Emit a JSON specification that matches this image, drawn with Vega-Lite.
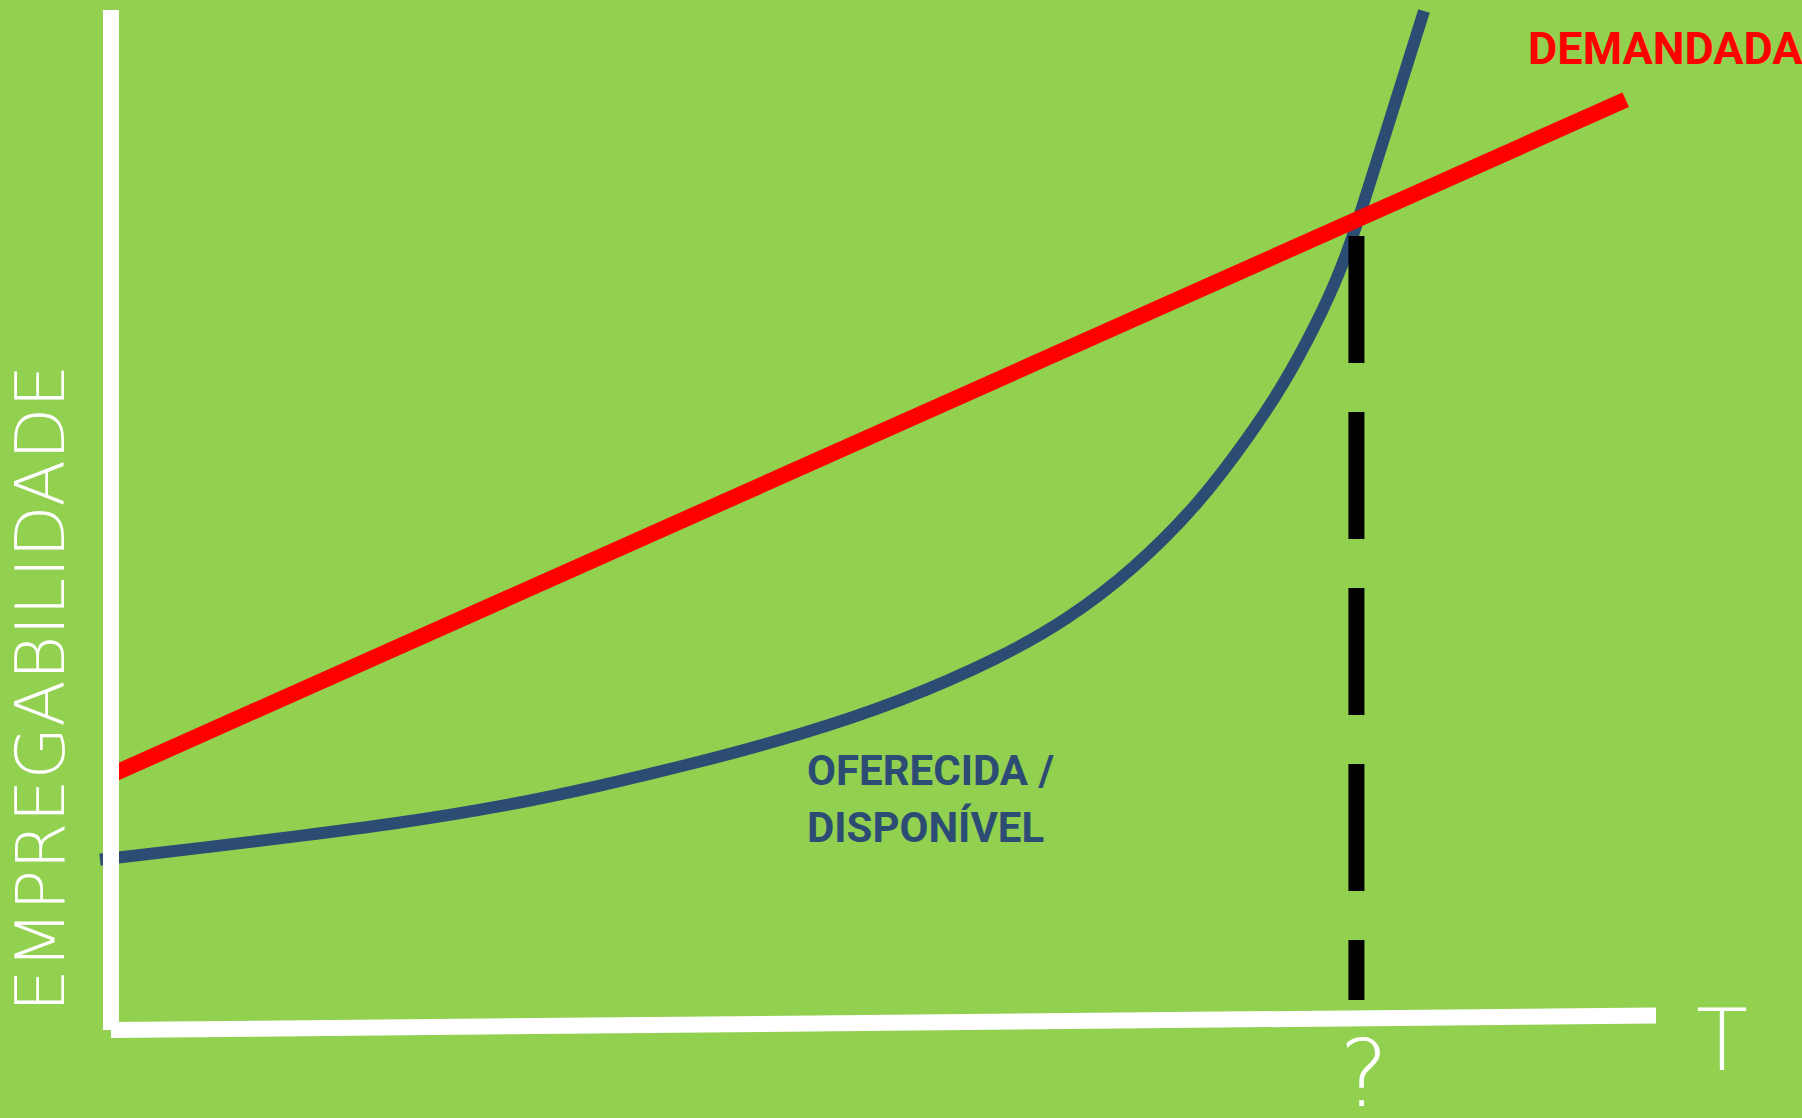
{
  "$schema": "https://vega.github.io/schema/vega-lite/v6.json",
  "autosize": "none",
  "width": 1802,
  "height": 1118,
  "padding": 0,
  "background": "#92D050",
  "config": {"view": {"stroke": null}},
  "datasets": {
    "curves": [
      {"series": "OFERECIDA", "T": -0.712, "E": 16.7},
      {"series": "OFERECIDA", "T": 0.518, "E": 16.91},
      {"series": "OFERECIDA", "T": 5.761, "E": 17.84},
      {"series": "OFERECIDA", "T": 12.233, "E": 19.02},
      {"series": "OFERECIDA", "T": 18.706, "E": 20.29},
      {"series": "OFERECIDA", "T": 25.178, "E": 21.86},
      {"series": "OFERECIDA", "T": 31.65, "E": 23.92},
      {"series": "OFERECIDA", "T": 38.123, "E": 26.27},
      {"series": "OFERECIDA", "T": 44.595, "E": 28.92},
      {"series": "OFERECIDA", "T": 51.068, "E": 32.16},
      {"series": "OFERECIDA", "T": 57.54, "E": 36.47},
      {"series": "OFERECIDA", "T": 61.877, "E": 40.2},
      {"series": "OFERECIDA", "T": 66.149, "E": 45.1},
      {"series": "OFERECIDA", "T": 70.485, "E": 51.67},
      {"series": "OFERECIDA", "T": 73.722, "E": 58.33},
      {"series": "OFERECIDA", "T": 75.858, "E": 63.14},
      {"series": "OFERECIDA", "T": 78.058, "E": 69.31},
      {"series": "OFERECIDA", "T": 79.547, "E": 74.31},
      {"series": "OFERECIDA", "T": 80.647, "E": 78.92},
      {"series": "OFERECIDA", "T": 82.848, "E": 89.61},
      {"series": "OFERECIDA", "T": 84.984, "E": 99.9},
      {"series": "DEMANDADA", "T": 0, "E": 25.0},
      {"series": "DEMANDADA", "T": 98.04, "E": 91.2},
      {"series": "EIXO_T", "T": 0, "E": 0},
      {"series": "EIXO_T", "T": 100, "E": 1.42}
    ],
    "eixoY": [{"T": 0, "E0": 0, "E1": 100}],
    "marcador": [{"T": 80.61, "E0": 77.84, "E1": 2.94}],
    "rotulos": [
      {"tipo": "demanda", "label": "DEMANDADA", "T": 91.72, "E": 94.67},
      {"tipo": "oferta", "label": "OFERECIDA /", "T": 45.05, "E": 24.02},
      {"tipo": "oferta", "label": "DISPONÍVEL", "T": 45.05, "E": 18.43},
      {"tipo": "eixo", "label": "T", "T": 104.27, "E": -3.92},
      {"tipo": "pergunta", "label": "?", "T": 81.1, "E": -7.45},
      {"tipo": "eixoY", "label": "EMPREGABILIDADE", "T": -3.042, "E": 33.48}
    ]
  },
  "encoding": {
    "x": {"field": "T", "type": "quantitative", "axis": null, "scale": {"domain": [-7.184, 109.45], "nice": false, "zero": false}},
    "y": {"field": "E", "type": "quantitative", "axis": null, "scale": {"domain": [-8.627, 100.98], "nice": false, "zero": false}}
  },
  "layer": [
    {
      "data": {"name": "curves"},
      "transform": [{"filter": "datum.series === 'OFERECIDA'"}],
      "mark": {"type": "line", "color": "#2C4C74", "strokeWidth": 12, "interpolate": "basis", "strokeCap": "butt"}
    },
    {
      "data": {"name": "curves"},
      "transform": [{"filter": "datum.series === 'DEMANDADA'"}],
      "mark": {"type": "line", "color": "#FF0000", "strokeWidth": 16, "strokeCap": "butt"}
    },
    {
      "data": {"name": "marcador"},
      "mark": {"type": "rule", "color": "#000000", "strokeWidth": 16, "strokeDash": [127, 49], "strokeCap": "butt"},
      "encoding": {
        "y": {"field": "E0", "type": "quantitative"},
        "y2": {"field": "E1"}
      }
    },
    {
      "data": {"name": "curves"},
      "transform": [{"filter": "datum.series === 'EIXO_T'"}],
      "mark": {"type": "line", "color": "#FFFFFF", "strokeWidth": 16, "strokeCap": "butt"}
    },
    {
      "data": {"name": "eixoY"},
      "mark": {"type": "rule", "color": "#FFFFFF", "strokeWidth": 16, "strokeCap": "butt"},
      "encoding": {
        "y": {"field": "E0", "type": "quantitative"},
        "y2": {"field": "E1"}
      }
    },
    {
      "data": {"name": "rotulos"},
      "transform": [{"filter": "datum.tipo === 'demanda'"}],
      "mark": {"type": "text", "align": "left", "baseline": "alphabetic", "font": "Roboto", "fontWeight": "bold", "fontSize": 45, "color": "#FF0000"},
      "encoding": {"text": {"field": "label"}}
    },
    {
      "data": {"name": "rotulos"},
      "transform": [{"filter": "datum.tipo === 'oferta'"}],
      "mark": {"type": "text", "align": "left", "baseline": "alphabetic", "font": "Roboto", "fontWeight": "bold", "fontSize": 42, "color": "#2C4C74"},
      "encoding": {"text": {"field": "label"}}
    },
    {
      "data": {"name": "rotulos"},
      "transform": [{"filter": "datum.tipo === 'eixo'"}],
      "mark": {"type": "text", "align": "center", "baseline": "alphabetic", "font": "DejaVu Sans", "fontWeight": 200, "fontSize": 85, "color": "#FFFFFF"},
      "encoding": {"text": {"field": "label"}}
    },
    {
      "data": {"name": "rotulos"},
      "transform": [{"filter": "datum.tipo === 'pergunta'"}],
      "mark": {"type": "text", "align": "center", "baseline": "alphabetic", "font": "DejaVu Sans", "fontWeight": 200, "fontSize": 92, "color": "#FFFFFF"},
      "encoding": {"text": {"field": "label"}}
    },
    {
      "data": {"name": "rotulos"},
      "transform": [{"filter": "datum.tipo === 'eixoY'"}],
      "mark": {"type": "text", "align": "center", "baseline": "alphabetic", "angle": 270, "font": "DejaVu Sans", "fontWeight": 200, "fontSize": 68, "color": "#FFFFFF"},
      "encoding": {"text": {"field": "label"}}
    }
  ]
}
